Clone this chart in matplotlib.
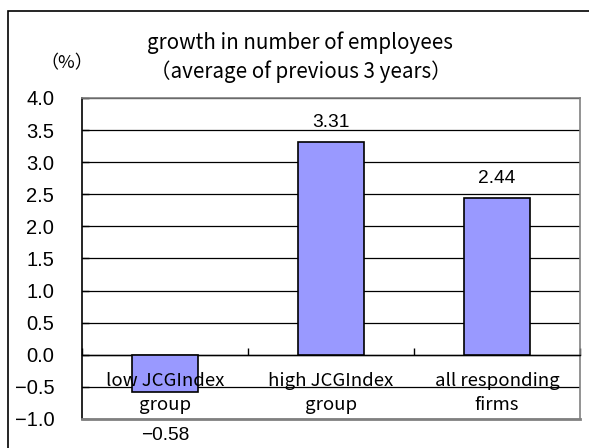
import matplotlib
matplotlib.use("Agg")
import matplotlib.pyplot as plt
from matplotlib.patches import Rectangle
from matplotlib.lines import Line2D

# data
categories = ["low JCGIndex\ngroup", "high JCGIndex\ngroup", "all responding\nfirms"]
values = [-0.58, 3.31, 2.44]
value_labels = ["\u22120.58", "3.31", "2.44"]
yticks = [-1.0, -0.5, 0.0, 0.5, 1.0, 1.5, 2.0, 2.5, 3.0, 3.5, 4.0]

title_lines = ["growth in number of employees", "\uff08average of previous 3 years\uff09"]
unit_label = "\uff08%\uff09"

W, H = 589, 448
jp = ["Noto Sans CJK JP", "DejaVu Sans"]
num = ["Liberation Sans", "DejaVu Sans"]

fig = plt.figure(figsize=(W / 100, H / 100), dpi=100)
fig.patch.set_facecolor("white")

# plot area in pixels: left 82, right 580, top 98, bottom 419
ax = fig.add_axes([82 / W, 1 - 419 / H, (580 - 82) / W, (419 - 98) / H])
ax.set_xlim(-0.5, len(categories) - 0.5)
ax.set_ylim(-1.0, 4.0)

bars = ax.bar(range(len(values)), values, width=0.4, color="#9999ff",
              edgecolor="black", linewidth=1.2, zorder=3)

# grid lines
ax.set_axisbelow(True)
ax.set_yticks(yticks)
ax.set_yticklabels(["\u2212%.1f" % abs(v) if v < 0 else "%.1f" % v for v in yticks],
                   family=num, fontsize=14.5)
ax.yaxis.grid(True, color="black", linewidth=0.9)
ax.tick_params(axis="y", direction="in", length=5, width=1, pad=20)

# category axis sits on the zero line
ax.spines["bottom"].set_position(("data", 0))
ax.spines["bottom"].set_color("black")
ax.spines["bottom"].set_linewidth(1.0)
ax.set_xticks([-0.5, 0.5, 1.5, 2.5])
ax.set_xticklabels([])
ax.tick_params(axis="x", direction="in", length=5, width=1, color="black")

ax.spines["left"].set_color("black")
ax.spines["left"].set_linewidth(1.2)
for s in ("top", "right"):
    ax.spines[s].set_color("#808080")
    ax.spines[s].set_linewidth(1.2)
ax.add_line(Line2D([0, 1], [0, 0], transform=ax.transAxes, color="#808080",
                   linewidth=2.0, clip_on=False, zorder=5))

# category labels below the zero line
for i, lab in enumerate(categories):
    ax.text(i, -0.6, lab, ha="center", va="center", family=jp, fontsize=13.4,
            linespacing=1.42, zorder=6)

# value labels
for b, v, lab in zip(bars, values, value_labels):
    off = 14.5 if v >= 0 else -31
    ax.annotate(lab, (b.get_x() + b.get_width() / 2, v), xytext=(0, off),
                textcoords="offset points", ha="center", va="center",
                family=num, fontsize=13.8, annotation_clip=False)

# titles
fig.text(300 / W, 1 - 43 / H, title_lines[0], ha="center", va="center",
         family=jp, fontsize=14.8)
fig.text(301 / W, 1 - 72 / H, title_lines[1], ha="center", va="center",
         family=jp, fontsize=14.8)
fig.text(67 / W, 1 - 63 / H, unit_label, ha="center", va="center",
         family=jp, fontsize=13)

# outer border (cut off at right and bottom)
fig.add_artist(Rectangle((8 / W, -0.1), 1.2, 1 - 11 / H + 0.1,
                         transform=fig.transFigure, fill=False,
                         edgecolor="black", linewidth=1.2))

fig.savefig("out.png", dpi=100)
